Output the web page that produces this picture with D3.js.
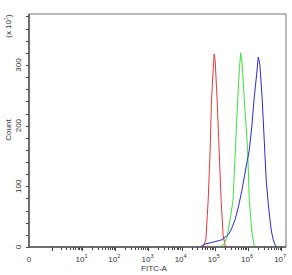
<!DOCTYPE html>
<html>
<head>
<meta charset="utf-8">
<script src="https://d3js.org/d3.v7.min.js"></script>
<style>
  body { margin: 0; background: #fff; }
  text { font-family: "Liberation Sans", Arial, sans-serif; fill: #333; }
</style>
</head>
<body>
<div id="chart"></div>
<script>
// values: x as log10(FITC-A), y as count (x10)
const redLog   = [4.65, 4.73, 4.80, 4.86, 4.90, 4.95, 4.98, 5.01, 5.07, 5.13, 5.19, 5.25, 5.31, 5.40];
const redCount = [0, 12, 77, 160, 242, 292, 318, 308, 242, 160, 77, 20, 2, 0];

const greenLog   = [5.16, 5.28, 5.37, 5.46, 5.55, 5.62, 5.69, 5.74, 5.78, 5.82, 5.89, 5.99, 6.04, 6.11, 6.18, 6.24];
const greenCount = [0, 5, 16, 45, 77, 160, 242, 292, 320, 305, 242, 160, 77, 28, 3, 0];

const blueLog   = [4.56, 4.71, 4.95, 5.22, 5.40, 5.49, 5.61, 5.71, 5.82, 5.91, 6.04, 6.12, 6.18, 6.26, 6.31, 6.36, 6.43, 6.49, 6.55, 6.62, 6.70, 6.76, 6.82, 6.88];
const blueCount = [0, 5, 8, 12, 20, 28, 45, 66, 94, 122, 160, 201, 242, 284, 313, 300, 242, 176, 110, 66, 28, 12, 3, 0];

const yMajor = [0, 100, 200, 300];
const xDecades = [1, 2, 3, 4, 5, 6, 7];

const W = 292, H = 275;
const margin = {left: 29, right: 286, top: 14, bottom: 247};

const svg = d3.select("#chart").append("svg")
  .attr("width", W).attr("height", H);

const x = d3.scaleSymlog().constant(0.25)
  .domain([0, 1.4e7])
  .range([margin.left, margin.right]);

const y = d3.scaleLinear()
  .domain([0, 384])
  .range([margin.bottom, margin.top]);

// frame
svg.append("rect")
  .attr("x", margin.left).attr("y", margin.top)
  .attr("width", margin.right - margin.left).attr("height", margin.bottom - margin.top)
  .attr("fill", "none").attr("stroke", "#777").attr("stroke-width", 1);

// y axis
const yMinor = d3.range(0, 381, 20);
svg.append("g").selectAll("line").data(yMinor).enter().append("line")
  .attr("x1", margin.left - 3).attr("x2", margin.left)
  .attr("y1", d => Math.round(y(d)) + 0.5).attr("y2", d => Math.round(y(d)) + 0.5)
  .attr("stroke", "#444");
svg.append("g").selectAll("text").data(yMajor).enter().append("text")
  .attr("transform", d => `translate(${margin.left - 8},${y(d)}) rotate(-90)`)
  .attr("text-anchor", "middle")
  .attr("font-size", 8)
  .text(d => d);

// x axis ticks
const xMinor = [];
for (let k = 0; k < 7; k++) for (let m = 1; m <= 9; m++) xMinor.push(m * Math.pow(10, k));
xMinor.push(1e7);
svg.append("g").selectAll("line").data(xMinor).enter().append("line")
  .attr("x1", d => Math.round(x(d)) + 0.5).attr("x2", d => Math.round(x(d)) + 0.5)
  .attr("y1", margin.bottom).attr("y2", d => Math.log10(d) % 1 === 0 ? margin.bottom + 4 : margin.bottom + 3)
  .attr("stroke", "#444");

svg.append("text")
  .attr("x", x(0)).attr("y", margin.bottom + 15)
  .attr("text-anchor", "middle").attr("font-size", 8)
  .text("0");
const xl = svg.append("g").selectAll("text").data(xDecades).enter().append("text")
  .attr("x", d => x(Math.pow(10, d)) - 1).attr("y", margin.bottom + 15)
  .attr("text-anchor", "middle").attr("font-size", 8)
  .text("10");
xl.append("tspan").attr("dy", -4).attr("font-size", 5.5).text(d => d);

// axis titles
svg.append("text")
  .attr("x", 154).attr("y", 271)
  .attr("text-anchor", "middle").attr("font-size", 8)
  .text("FITC-A");
svg.append("text")
  .attr("transform", `translate(11,130) rotate(-90)`)
  .attr("text-anchor", "middle").attr("font-size", 8)
  .text("Count");
const mult = svg.append("text")
  .attr("transform", `translate(11,26) rotate(-90)`)
  .attr("text-anchor", "middle").attr("font-size", 8)
  .text("(x 10");
mult.append("tspan").attr("dy", -3).attr("font-size", 5.5).text("1");
mult.append("tspan").attr("dy", 3).text(")");

// histograms
const line = d3.line()
  .x(d => x(Math.pow(10, d[0])))
  .y(d => y(d[1]));

const series = [
  { xs: redLog, ys: redCount, color: "#e8383a" },
  { xs: greenLog, ys: greenCount, color: "#3ee03e" },
  { xs: blueLog, ys: blueCount, color: "#2b2bd0" }
];
series.forEach(s => {
  svg.append("path")
    .datum(s.xs.map((v, i) => [v, s.ys[i]]))
    .attr("fill", "none")
    .attr("stroke", s.color)
    .attr("stroke-width", 1)
    .attr("d", line);
});

// left and bottom axis lines drawn on top
svg.append("line").attr("x1", margin.left).attr("x2", margin.left).attr("y1", margin.top).attr("y2", margin.bottom)
  .attr("stroke", "#555").attr("stroke-width", 1.5);
svg.append("line").attr("x1", margin.left).attr("x2", margin.right).attr("y1", margin.bottom).attr("y2", margin.bottom)
  .attr("stroke", "#555").attr("stroke-width", 1.5);
</script>
</body>
</html>
